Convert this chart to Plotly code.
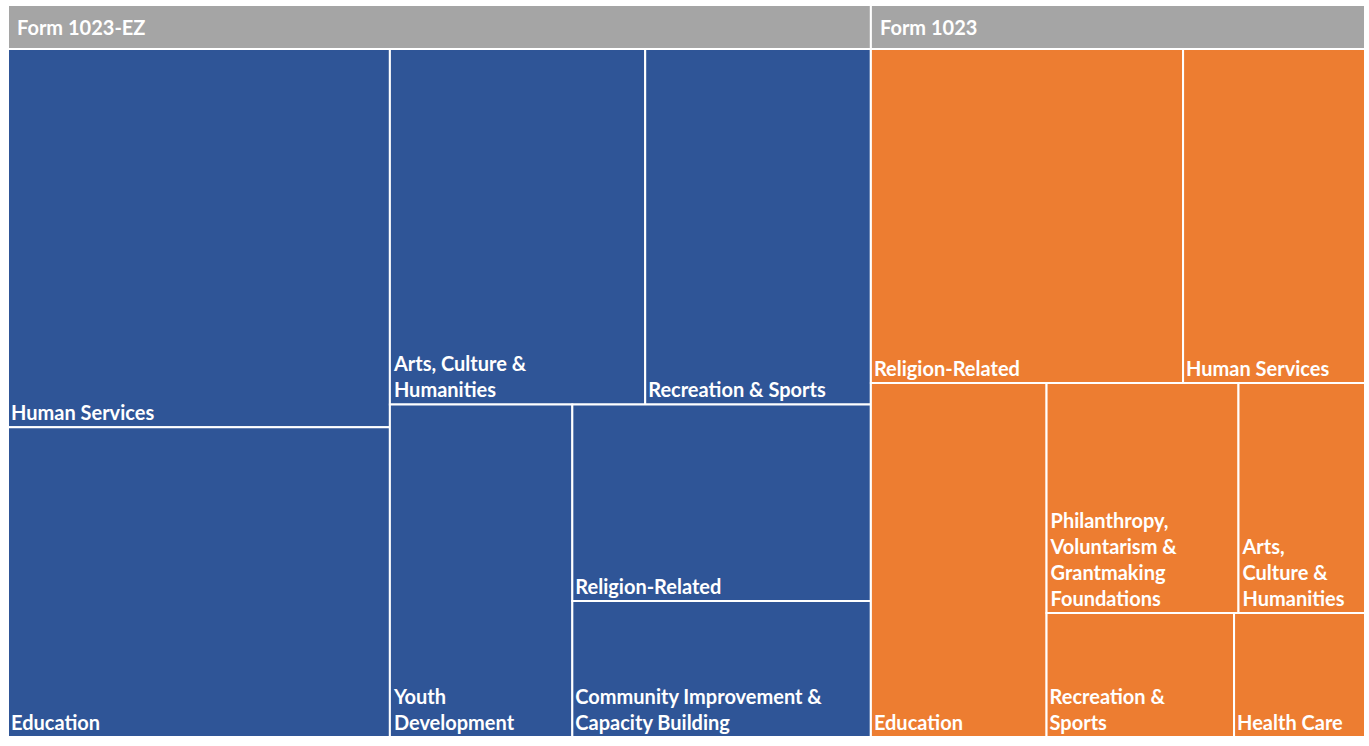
import plotly.graph_objects as go

parents_names = ["Form 1023-EZ", "Form 1023"]

ez_categories = ["Human Services", "Education", "Arts, Culture &<br>Humanities",
                 "Recreation & Sports", "Youth<br>Development", "Religion-Related",
                 "Community Improvement &<br>Capacity Building"]
ez_values = [144, 118, 90.5, 80, 60.5, 58.5, 40.5]

f_categories = ["Religion-Related", "Human Services", "Education",
                "Philanthropy,<br>Voluntarism &<br>Grantmaking<br>Foundations",
                "Arts,<br>Culture &<br>Humanities", "Recreation &<br>Sports", "Health Care"]
f_values = [104, 60.6, 62, 44, 29, 23.2, 16.2]

BLUE, ORANGE, GREY = "#2F5597", "#ED7D31", "#A5A5A5"
FONT = dict(family="Lato, Open Sans, sans-serif", size=20, color="white", weight="bold")

total = sum(ez_values) + sum(f_values)
split = sum(ez_values) / total

fig = go.Figure()
for pname, cats, vals, col, dom in [(parents_names[0], ez_categories, ez_values, BLUE, [0, split]),
                                    (parents_names[1], f_categories, f_values, ORANGE, [split, 1])]:
    ids = [pname] + [pname + "/" + c for c in cats]
    labels = [pname] + cats
    parents = [""] + [pname] * len(cats)
    values = [sum(vals)] + vals
    colors = [GREY] + [col] * len(cats)
    fig.add_trace(go.Treemap(
        ids=ids, labels=labels, parents=parents, values=values,
        branchvalues="total", sort=False,
        domain=dict(x=dom, y=[0, 1]),
        marker=dict(colors=colors, line=dict(color="white", width=2), pad=dict(t=44, l=0, r=0, b=0)),
        textposition="bottom left",
        textfont=FONT,
        pathbar=dict(visible=False),
        tiling=dict(packing="squarify", pad=0),
        hoverinfo="label+value",
    ))
    fig.add_annotation(x=dom[0], y=1, xref="paper", yref="paper", xanchor="left", yanchor="middle",
                       xshift=7, yshift=-22, text=pname, showarrow=False, font=FONT)

fig.update_layout(
    width=1369, height=746,
    margin=dict(l=8, r=4, t=5, b=9),
    paper_bgcolor="white",
)
fig.write_html("out.html", config={"displayModeBar": False},
               post_script="document.body.style.margin='0';document.body.style.overflow='hidden';")
